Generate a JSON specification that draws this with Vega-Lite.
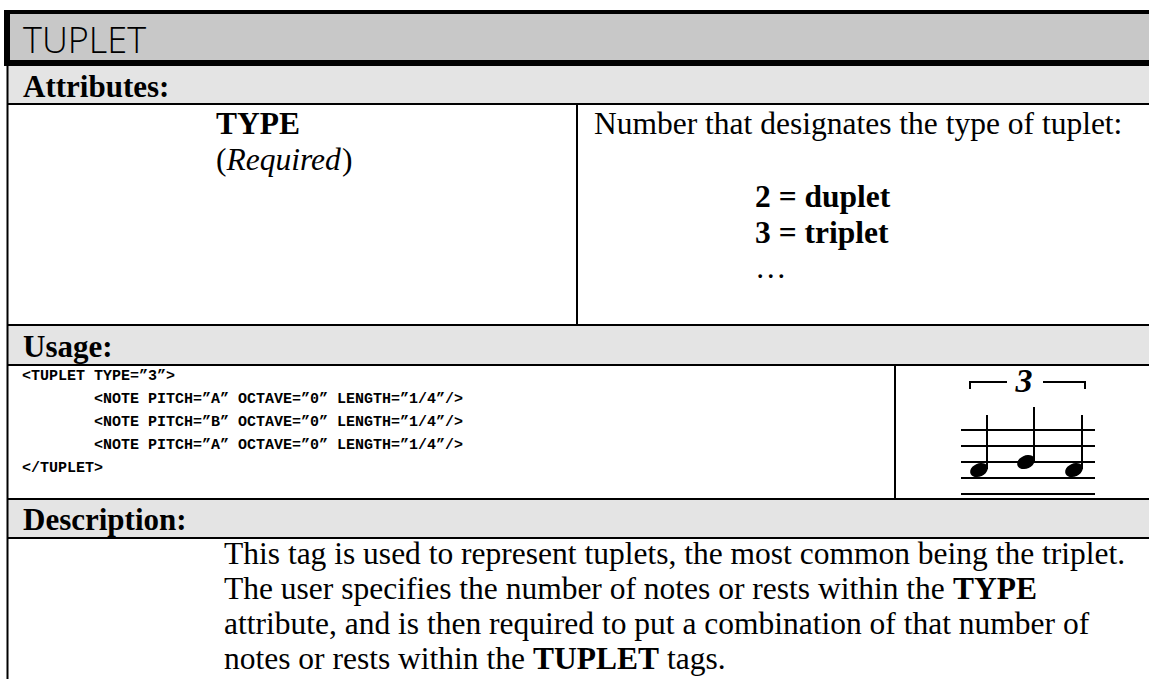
{
  "$schema": "https://vega.github.io/schema/vega-lite/v6.json",
  "width": 1149,
  "height": 679,
  "padding": 0,
  "autosize": {"type": "none"},
  "background": "white",
  "config": {"view": {"stroke": null}},
  "datasets": {
    "rects": [
      {"x1": 4, "x2": 1149, "y1": 10, "y2": 66, "part": "border"},
      {"x1": 10, "x2": 1149, "y1": 14, "y2": 60, "part": "title"},
      {"x1": 8, "x2": 1149, "y1": 66, "y2": 103, "part": "band"},
      {"x1": 8, "x2": 1149, "y1": 325, "y2": 364, "part": "band"},
      {"x1": 8, "x2": 1149, "y1": 500, "y2": 537, "part": "band"}
    ],
    "rules": [
      {"x1": 7, "x2": 1149, "y1": 104, "y2": 104},
      {"x1": 7, "x2": 1149, "y1": 325, "y2": 325},
      {"x1": 7, "x2": 1149, "y1": 365, "y2": 365},
      {"x1": 7, "x2": 1149, "y1": 499, "y2": 499},
      {"x1": 7, "x2": 1149, "y1": 538, "y2": 538},
      {"x1": 7.5, "x2": 7.5, "y1": 66, "y2": 679},
      {"x1": 577, "x2": 577, "y1": 104, "y2": 325},
      {"x1": 895, "x2": 895, "y1": 365, "y2": 499},
      {"x1": 961, "x2": 1095, "y1": 430, "y2": 430},
      {"x1": 961, "x2": 1095, "y1": 446, "y2": 446},
      {"x1": 961, "x2": 1095, "y1": 462, "y2": 462},
      {"x1": 961, "x2": 1095, "y1": 478, "y2": 478},
      {"x1": 961, "x2": 1095, "y1": 494, "y2": 494},
      {"x1": 987, "x2": 987, "y1": 415, "y2": 469},
      {"x1": 1034, "x2": 1034, "y1": 407, "y2": 461},
      {"x1": 1082, "x2": 1082, "y1": 415, "y2": 469},
      {"x1": 970, "x2": 1007, "y1": 382, "y2": 382},
      {"x1": 970, "x2": 970, "y1": 381, "y2": 389},
      {"x1": 1043, "x2": 1085, "y1": 382, "y2": 382},
      {"x1": 1085, "x2": 1085, "y1": 381, "y2": 389}
    ],
    "heads": [
      {"x": 979, "y": 470},
      {"x": 1026, "y": 462},
      {"x": 1074, "y": 470}
    ],
    "texts": [
      {"x": 23, "y": 53, "text": "TUPLET", "kind": "title"},
      {"x": 23, "y": 97, "text": "Attributes:", "kind": "head"},
      {"x": 23, "y": 357, "text": "Usage:", "kind": "head"},
      {"x": 23, "y": 530, "text": "Description:", "kind": "head"},
      {"x": 216, "y": 134, "text": "TYPE", "kind": "bold"},
      {"x": 216, "y": 170, "text": "(", "kind": "serif"},
      {"x": 226.5, "y": 170, "text": "Required", "kind": "italic"},
      {"x": 342, "y": 170, "text": ")", "kind": "serif"},
      {"x": 594, "y": 134, "text": "Number that designates the type of tuplet:", "kind": "serif"},
      {"x": 755, "y": 207, "text": "2 = duplet", "kind": "bold"},
      {"x": 755, "y": 243, "text": "3 = triplet", "kind": "bold"},
      {"x": 755, "y": 278, "text": "…", "kind": "serif"},
      {"x": 22, "y": 380, "text": "<TUPLET TYPE=”3”>", "kind": "code"},
      {"x": 94, "y": 403, "text": "<NOTE PITCH=”A” OCTAVE=”0” LENGTH=”1/4”/>", "kind": "code"},
      {"x": 94, "y": 426, "text": "<NOTE PITCH=”B” OCTAVE=”0” LENGTH=”1/4”/>", "kind": "code"},
      {"x": 94, "y": 449, "text": "<NOTE PITCH=”A” OCTAVE=”0” LENGTH=”1/4”/>", "kind": "code"},
      {"x": 22, "y": 472, "text": "</TUPLET>", "kind": "code"},
      {"x": 1024, "y": 392, "text": "3", "kind": "tuplet"},
      {"x": 224, "y": 564, "text": "This tag is used to represent tuplets, the most common being the triplet.", "kind": "serif"},
      {"x": 224, "y": 599, "text": "The user specifies the number of notes or rests within the", "kind": "serif"},
      {"x": 953, "y": 599, "text": "TYPE", "kind": "bold"},
      {"x": 224, "y": 634, "text": "attribute, and is then required to put a combination of that number of", "kind": "serif"},
      {"x": 224, "y": 669, "text": "notes or rests within the", "kind": "serif"},
      {"x": 533, "y": 669, "text": "TUPLET", "kind": "bold"},
      {"x": 667, "y": 669, "text": "tags.", "kind": "serif"}
    ]
  },
  "layer": [
    {
      "data": {"name": "rects"},
      "mark": {"type": "rect", "strokeWidth": 0},
      "encoding": {
        "x": {"field": "x1", "type": "quantitative", "scale": {"domain": [0, 1149], "nice": false, "zero": false}, "axis": null},
        "x2": {"field": "x2"},
        "y": {"field": "y1", "type": "quantitative", "scale": {"domain": [0, 679], "nice": false, "zero": false, "reverse": true}, "axis": null},
        "y2": {"field": "y2"},
        "color": {"field": "part", "type": "nominal", "scale": {"domain": ["border", "title", "band"], "range": ["#000000", "#c8c8c8", "#e4e4e4"]}, "legend": null}
      }
    },
    {
      "data": {"name": "rules"},
      "mark": {"type": "rule", "strokeWidth": 2, "color": "#000000"},
      "encoding": {
        "x": {"field": "x1", "type": "quantitative", "scale": {"domain": [0, 1149], "nice": false, "zero": false}, "axis": null},
        "x2": {"field": "x2"},
        "y": {"field": "y1", "type": "quantitative", "scale": {"domain": [0, 679], "nice": false, "zero": false, "reverse": true}, "axis": null},
        "y2": {"field": "y2"}
      }
    },
    {
      "data": {"name": "heads"},
      "mark": {"type": "point", "filled": true, "color": "#000000", "opacity": 1, "size": 340, "shape": "M -0.906 0.423 A 1 0.7 -25 1 1 0.906 -0.423 A 1 0.7 -25 1 1 -0.906 0.423 Z"},
      "encoding": {
        "x": {"field": "x", "type": "quantitative", "scale": {"domain": [0, 1149], "nice": false, "zero": false}, "axis": null},
        "y": {"field": "y", "type": "quantitative", "scale": {"domain": [0, 679], "nice": false, "zero": false, "reverse": true}, "axis": null}
      }
    },
    {
      "data": {"name": "texts"},
      "transform": [{"filter": "datum.kind == 'title'"}],
      "mark": {"type": "text", "align": "left", "baseline": "alphabetic", "font": "Open Sans", "fontWeight": 300, "fontSize": 36, "color": "#000000"},
      "encoding": {
        "x": {"field": "x", "type": "quantitative", "scale": {"domain": [0, 1149], "nice": false, "zero": false}, "axis": null},
        "y": {"field": "y", "type": "quantitative", "scale": {"domain": [0, 679], "nice": false, "zero": false, "reverse": true}, "axis": null},
        "text": {"field": "text"}
      }
    },
    {
      "data": {"name": "texts"},
      "transform": [{"filter": "datum.kind == 'head'"}],
      "mark": {"type": "text", "align": "left", "baseline": "alphabetic", "font": "Liberation Serif", "fontWeight": "bold", "fontSize": 31, "color": "#000000"},
      "encoding": {
        "x": {"field": "x", "type": "quantitative", "scale": {"domain": [0, 1149], "nice": false, "zero": false}, "axis": null},
        "y": {"field": "y", "type": "quantitative", "scale": {"domain": [0, 679], "nice": false, "zero": false, "reverse": true}, "axis": null},
        "text": {"field": "text"}
      }
    },
    {
      "data": {"name": "texts"},
      "transform": [{"filter": "datum.kind == 'bold'"}],
      "mark": {"type": "text", "align": "left", "baseline": "alphabetic", "font": "Liberation Serif", "fontWeight": "bold", "fontSize": 31.5, "color": "#000000"},
      "encoding": {
        "x": {"field": "x", "type": "quantitative", "scale": {"domain": [0, 1149], "nice": false, "zero": false}, "axis": null},
        "y": {"field": "y", "type": "quantitative", "scale": {"domain": [0, 679], "nice": false, "zero": false, "reverse": true}, "axis": null},
        "text": {"field": "text"}
      }
    },
    {
      "data": {"name": "texts"},
      "transform": [{"filter": "datum.kind == 'serif'"}],
      "mark": {"type": "text", "align": "left", "baseline": "alphabetic", "font": "Liberation Serif", "fontSize": 31.5, "color": "#000000"},
      "encoding": {
        "x": {"field": "x", "type": "quantitative", "scale": {"domain": [0, 1149], "nice": false, "zero": false}, "axis": null},
        "y": {"field": "y", "type": "quantitative", "scale": {"domain": [0, 679], "nice": false, "zero": false, "reverse": true}, "axis": null},
        "text": {"field": "text"}
      }
    },
    {
      "data": {"name": "texts"},
      "transform": [{"filter": "datum.kind == 'italic'"}],
      "mark": {"type": "text", "align": "left", "baseline": "alphabetic", "font": "Liberation Serif", "fontStyle": "italic", "fontSize": 31.5, "color": "#000000"},
      "encoding": {
        "x": {"field": "x", "type": "quantitative", "scale": {"domain": [0, 1149], "nice": false, "zero": false}, "axis": null},
        "y": {"field": "y", "type": "quantitative", "scale": {"domain": [0, 679], "nice": false, "zero": false, "reverse": true}, "axis": null},
        "text": {"field": "text"}
      }
    },
    {
      "data": {"name": "texts"},
      "transform": [{"filter": "datum.kind == 'code'"}],
      "mark": {"type": "text", "align": "left", "baseline": "alphabetic", "font": "Liberation Mono", "fontWeight": "bold", "fontSize": 15, "color": "#000000"},
      "encoding": {
        "x": {"field": "x", "type": "quantitative", "scale": {"domain": [0, 1149], "nice": false, "zero": false}, "axis": null},
        "y": {"field": "y", "type": "quantitative", "scale": {"domain": [0, 679], "nice": false, "zero": false, "reverse": true}, "axis": null},
        "text": {"field": "text"}
      }
    },
    {
      "data": {"name": "texts"},
      "transform": [{"filter": "datum.kind == 'tuplet'"}],
      "mark": {"type": "text", "align": "center", "baseline": "alphabetic", "font": "Liberation Serif", "fontWeight": "bold", "fontStyle": "italic", "fontSize": 34, "color": "#000000"},
      "encoding": {
        "x": {"field": "x", "type": "quantitative", "scale": {"domain": [0, 1149], "nice": false, "zero": false}, "axis": null},
        "y": {"field": "y", "type": "quantitative", "scale": {"domain": [0, 679], "nice": false, "zero": false, "reverse": true}, "axis": null},
        "text": {"field": "text"}
      }
    }
  ]
}
